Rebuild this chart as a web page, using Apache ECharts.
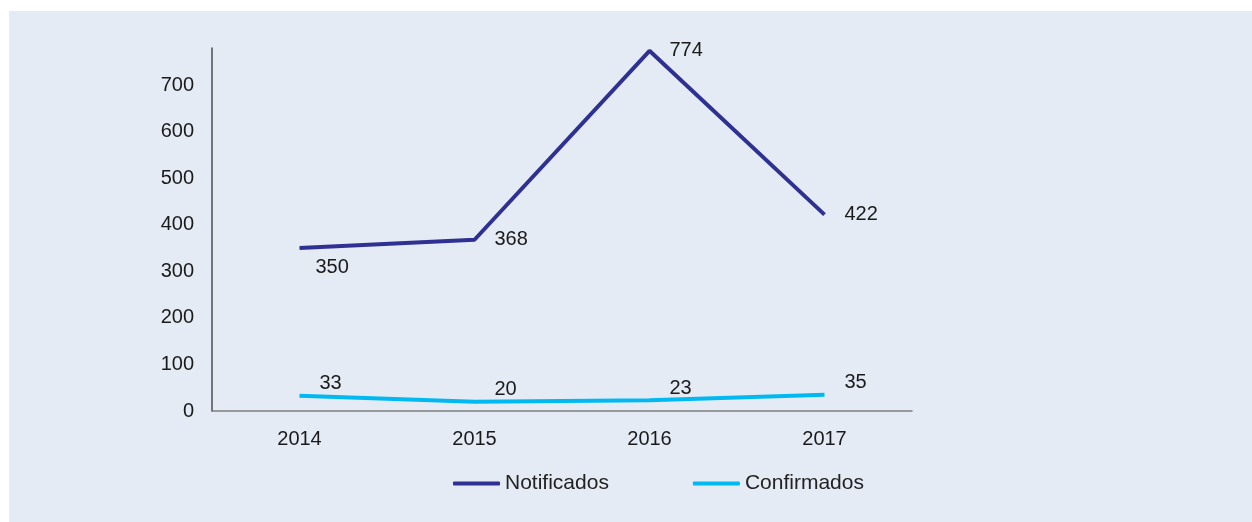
<!DOCTYPE html>
<html>
<head>
<meta charset="utf-8">
<script src="https://cdn.jsdelivr.net/npm/echarts@6/dist/echarts.min.js"></script>
<style>
  html, body { margin: 0; padding: 0; background: #ffffff; }
  #chart { position: absolute; left: 9px; top: 11px; width: 1243px; height: 511px; }
</style>
</head>
<body>
<div id="chart"></div>
<script>
// datos
var years = ['2014', '2015', '2016', '2017'];
var notificados = [350, 368, 774, 422];
var confirmados = [33, 20, 23, 35];

var chart = echarts.init(document.getElementById('chart'));
var font = 'Liberation Sans, Arial, sans-serif';

var option = {
  backgroundColor: '#e4ebf4',
  animation: false,
  textStyle: { fontFamily: font },
  grid: { left: 203, right: 340, top: 37, bottom: 111, containLabel: false },
  legend: {
    left: 439,
    top: 457,
    icon: 'roundRect',
    itemWidth: 47,
    itemHeight: 4,
    itemGap: 84,
    textStyle: { fontSize: 21, color: '#222', fontFamily: font },
    data: ['Notificados', 'Confirmados']
  },
  xAxis: {
    type: 'category',
    data: years,
    boundaryGap: true,
    axisLine: { lineStyle: { color: '#7f7f7f', width: 1.5 } },
    axisTick: { show: false },
    axisLabel: { fontSize: 20, color: '#1a1a1a', margin: 18, fontFamily: font }
  },
  yAxis: {
    type: 'value',
    min: 0,
    max: 780,
    interval: 100,
    splitLine: { show: false },
    axisLine: { show: true, lineStyle: { color: '#4d4d4d', width: 1.5 } },
    axisTick: { show: false },
    axisLabel: { fontSize: 20, color: '#1a1a1a', margin: 18, showMaxLabel: false, fontFamily: font }
  },
  series: [{
    name: 'Notificados',
    type: 'line',
    data: notificados,
    symbol: 'circle',
    symbolSize: 0,
    lineStyle: { color: '#2e3192', width: 4 },
    itemStyle: { color: '#2e3192' },
    label: {
      show: true,
      position: 'right',
      offset: [15, 0],
      fontSize: 20,
      color: '#1a1a1a',
      fontFamily: font
    }
  }, {
    name: 'Confirmados',
    type: 'line',
    data: confirmados,
    symbol: 'circle',
    symbolSize: 0,
    lineStyle: { color: '#00b9f1', width: 4 },
    itemStyle: { color: '#00b9f1' },
    label: {
      show: true,
      position: 'right',
      offset: [15, -12],
      fontSize: 20,
      color: '#1a1a1a',
      fontFamily: font
    }
  }]
};

// la etiqueta de 2014 va debajo de la línea
option.series[0].data = notificados.map(function (v, i) {
  if (i === 0) return { value: v, label: { offset: [11, 19] } };
  return v;
});

chart.setOption(option);
</script>
</body>
</html>
